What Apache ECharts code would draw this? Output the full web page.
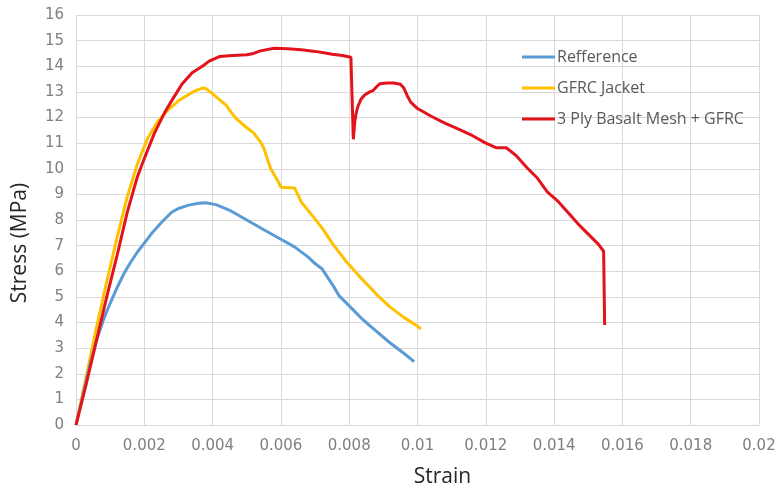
<!DOCTYPE html>
<html>
<head>
<meta charset="utf-8">
<script src="https://cdn.jsdelivr.net/npm/echarts@6/dist/echarts.min.js"></script>
<style>html,body{margin:0;padding:0;background:#fff;}#c{width:780px;height:493px;}</style>
</head>
<body>
<div id="c"></div>
<script>
const seriesNames = ['Refference', 'GFRC Jacket', '3 Ply Basalt Mesh + GFRC'];
const xTickLabels = ['0','0.002','0.004','0.006','0.008','0.01','0.012','0.014','0.016','0.018','0.02'];
const yTickLabels = ['0','1','2','3','4','5','6','7','8','9','10','11','12','13','14','15','16'];

const refStrain = [0,0.0002,0.0004,0.0006,0.0008,0.001,0.0012,0.0014,0.0016,0.0018,0.002,0.0022,0.0025,0.0028,0.003,0.0033,0.0036,0.0038,0.0041,0.0045,0.005,0.0055,0.006,0.0064,0.0068,0.007,0.0072,0.0075,0.0077,0.008,0.0084,0.0088,0.0092,0.0096,0.0099];
const refStress = [0,1.15,2.3,3.3,4.1,4.75,5.35,5.9,6.35,6.75,7.1,7.45,7.9,8.3,8.45,8.58,8.65,8.67,8.6,8.38,8.0,7.62,7.25,6.95,6.55,6.3,6.1,5.5,5.05,4.65,4.11,3.65,3.2,2.8,2.47];

const gfrcStrain = [0,0.0003,0.0006,0.0009,0.0012,0.0015,0.0018,0.0021,0.0024,0.0027,0.003,0.0033,0.0035,0.0037,0.0038,0.004,0.0042,0.0044,0.0046,0.0047,0.005,0.0052,0.0054,0.0055,0.0057,0.0059,0.006,0.0064,0.0066,0.0069,0.0072,0.0075,0.0079,0.0083,0.0088,0.0092,0.0096,0.01,0.0101];
const gfrcStress = [0,1.9,3.8,5.6,7.3,8.9,10.2,11.2,11.85,12.3,12.65,12.9,13.05,13.15,13.13,12.92,12.7,12.47,12.1,11.95,11.6,11.4,11.05,10.8,10.0,9.55,9.28,9.25,8.7,8.2,7.7,7.1,6.4,5.8,5.1,4.6,4.2,3.85,3.75];

const basaltStrain = [0,0.0003,0.0006,0.0009,0.0012,0.0015,0.0018,0.002,0.0023,0.0026,0.0028,0.0031,0.0034,0.0037,0.0039,0.0042,0.0046,0.005,0.0052,0.0054,0.0058,0.0062,0.0066,0.007,0.0073,0.0075,0.0078,0.00805,0.00812,0.00816,0.0082,0.00826,0.00834,0.00845,0.0086,0.0087,0.0088,0.0089,0.0091,0.0093,0.0095,0.0096,0.0097,0.0098,0.01,0.0104,0.0108,0.0112,0.0116,0.012,0.0123,0.0126,0.0129,0.0132,0.0135,0.0138,0.0141,0.0144,0.0147,0.015,0.0153,0.01545,0.01548];
const basaltStress = [0,1.6,3.3,5.0,6.6,8.3,9.7,10.4,11.4,12.2,12.65,13.3,13.75,14.0,14.2,14.38,14.42,14.45,14.5,14.6,14.7,14.68,14.64,14.58,14.52,14.47,14.42,14.35,11.15,11.8,12.15,12.45,12.7,12.88,13.0,13.05,13.2,13.32,13.35,13.35,13.3,13.15,12.85,12.6,12.35,12.05,11.78,11.55,11.3,11.0,10.82,10.82,10.5,10.05,9.65,9.1,8.75,8.3,7.85,7.45,7.05,6.78,3.9];

const colors = ['#5B9BD5', '#FFC000', '#E3131B'];

function pairs(xs, ys) { return xs.map((x, i) => [x, ys[i]]); }

const chart = echarts.init(document.getElementById('c'));
chart.setOption({
  backgroundColor: '#ffffff',
  animation: false,
  grid: { left: 76, right: 21, top: 15, bottom: 63 },
  legend: {
    orient: 'vertical',
    left: 517,
    top: 44,
    itemWidth: 33,
    itemHeight: 3,
    itemGap: 15,
    icon: 'rect',
    textStyle: { fontFamily: 'Open Sans', fontSize: 16, color: '#595959', padding: [0, 0, 0, -3] },
    data: seriesNames
  },
  xAxis: {
    type: 'value',
    min: 0, max: 0.02, interval: 0.002,
    name: 'Strain',
    nameLocation: 'middle',
    nameGap: 42,
    nameTextStyle: { fontFamily: 'Open Sans', fontSize: 21, color: '#262626', padding: [0, 0, 0, 50] },
    axisLine: { show: true, lineStyle: { color: '#D9D9D9', width: 1 } },
    axisTick: { show: false },
    axisLabel: {
      fontFamily: 'DejaVu Sans', fontSize: 15, color: '#7F7F7F', margin: 14,
      formatter: v => xTickLabels[Math.round(v / 0.002)]
    },
    splitLine: { show: true, lineStyle: { color: '#D9D9D9', width: 1 } }
  },
  yAxis: {
    type: 'value',
    min: 0, max: 16, interval: 1,
    name: 'Stress (MPa)',
    nameLocation: 'middle',
    nameGap: 45,
    nameRotate: 90,
    nameTextStyle: { fontFamily: 'Open Sans', fontSize: 21, color: '#262626', padding: [0, 0, 0, -46] },
    axisLine: { show: false },
    axisTick: { show: false },
    axisLabel: {
      fontFamily: 'DejaVu Sans', fontSize: 15, color: '#7F7F7F', margin: 12,
      formatter: v => yTickLabels[Math.round(v)]
    },
    splitLine: { show: true, lineStyle: { color: '#D9D9D9', width: 1 } }
  },
  series: [
    { name: seriesNames[0], type: 'line', showSymbol: false, data: pairs(refStrain, refStress), lineStyle: { color: colors[0], width: 3 }, itemStyle: { color: colors[0] }, z: 3 },
    { name: seriesNames[1], type: 'line', showSymbol: false, data: pairs(gfrcStrain, gfrcStress), lineStyle: { color: colors[1], width: 3 }, itemStyle: { color: colors[1] }, z: 2 },
    { name: seriesNames[2], type: 'line', showSymbol: false, data: pairs(basaltStrain, basaltStress), lineStyle: { color: colors[2], width: 3 }, itemStyle: { color: colors[2] }, z: 4 }
  ]
});
</script>
</body>
</html>
